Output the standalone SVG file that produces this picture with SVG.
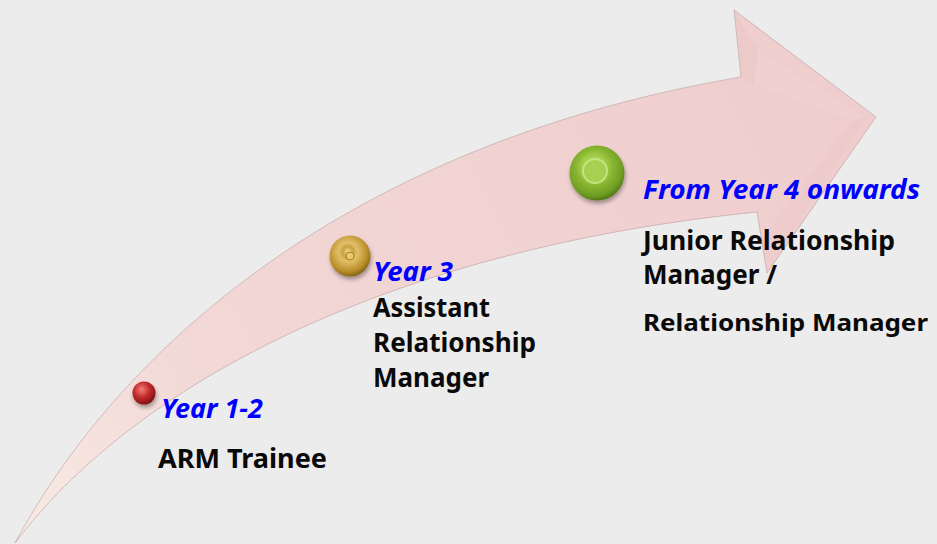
<svg xmlns="http://www.w3.org/2000/svg" width="937" height="544" viewBox="0 0 937 544">
  <defs>
    <linearGradient id="arrowFill" x1="15" y1="543" x2="876" y2="117" gradientUnits="userSpaceOnUse">
      <stop offset="0" stop-color="#f8ebe4"/>
      <stop offset="0.25" stop-color="#f2d8d6"/>
      <stop offset="1" stop-color="#efcdcd"/>
    </linearGradient>
    <radialGradient id="redBall" cx="0.4" cy="0.35" r="0.7">
      <stop offset="0" stop-color="#f08080"/>
      <stop offset="0.45" stop-color="#c83030"/>
      <stop offset="1" stop-color="#7a0c0c"/>
    </radialGradient>
    <radialGradient id="goldBall" cx="0.45" cy="0.4" r="0.65">
      <stop offset="0" stop-color="#f4dc8c"/>
      <stop offset="0.2" stop-color="#caa040"/>
      <stop offset="0.35" stop-color="#e2c068"/>
      <stop offset="0.75" stop-color="#b88c28"/>
      <stop offset="1" stop-color="#6e5410"/>
    </radialGradient>
    <radialGradient id="greenBall" cx="0.45" cy="0.4" r="0.65">
      <stop offset="0" stop-color="#c4e27a"/>
      <stop offset="0.35" stop-color="#a0cc48"/>
      <stop offset="0.5" stop-color="#8ab832"/>
      <stop offset="0.8" stop-color="#6e9c22"/>
      <stop offset="1" stop-color="#3f6410"/>
    </radialGradient>
    <filter id="shadow" x="-50%" y="-50%" width="200%" height="200%">
      <feGaussianBlur in="SourceAlpha" stdDeviation="2"/>
      <feOffset dx="1" dy="3" result="b"/>
      <feComponentTransfer><feFuncA type="linear" slope="0.35"/></feComponentTransfer>
      <feMerge><feMergeNode/><feMergeNode in="SourceGraphic"/></feMerge>
    </filter>
  </defs>
  <style>
    .year { font-family: "Noto Sans", "Liberation Sans", sans-serif; font-weight: bold; font-style: italic; font-size: 27px; fill: #0000ff; }
    .role { font-family: "Noto Sans", "Liberation Sans", sans-serif; font-weight: bold; font-size: 27px; fill: #0a0a0a; }
  </style>
  <rect x="0" y="0" width="937" height="544" fill="#ececec"/>

  <g id="timeline-arrow">
    <path d="M15,543 C130,330 370,140 741,77 L734,10 L876,117 L767,273 L757,212 C380,250 130,390 15,543 Z" fill="url(#arrowFill)" stroke="#b89898" stroke-width="0.8" stroke-opacity="0.7"/>
    <path d="M741,77 L734,10 L758,50 L754,84 Z" fill="#e8c4c4" opacity="0.35"/>
    <path d="M758,50 L866,118 L852,121 L754,84 Z" fill="#f3d8d8" opacity="0.3"/>
    <path d="M852,121 L866,118 L767,273 L762,238 Z" fill="#e6c4c4" opacity="0.25"/>
  </g>

  <g id="connectors"></g>

  <g id="node-year-1-2">
    <circle cx="144" cy="393" r="11.5" fill="url(#redBall)" filter="url(#shadow)"/>
    <text class="year" x="161" y="418" textLength="102" lengthAdjust="spacingAndGlyphs">Year 1-2</text>
    <text class="role" x="158" y="468" textLength="169" lengthAdjust="spacingAndGlyphs">ARM Trainee</text>
  </g>

  <g id="node-year-3">
    <circle cx="350" cy="256" r="20.5" fill="url(#goldBall)" filter="url(#shadow)"/>
    <circle cx="350" cy="256" r="4" fill="#e8c870" stroke="#a88020" stroke-width="1"/>
    <text class="year" x="373" y="281" textLength="80" lengthAdjust="spacingAndGlyphs">Year 3</text>
    <text class="role" x="373" y="317" textLength="117" lengthAdjust="spacingAndGlyphs">Assistant</text>
    <text class="role" x="373" y="352" textLength="163" lengthAdjust="spacingAndGlyphs">Relationship</text>
    <text class="role" x="373" y="387" textLength="116" lengthAdjust="spacingAndGlyphs">Manager</text>
  </g>

  <g id="node-year-4">
    <circle cx="597" cy="173" r="27.5" fill="url(#greenBall)" filter="url(#shadow)"/>
    <circle cx="595" cy="171" r="12" fill="#a6d050" stroke="#c8e688" stroke-width="2" opacity="0.9"/>
    <text class="year" x="643" y="199" textLength="277" lengthAdjust="spacingAndGlyphs">From Year 4 onwards</text>
    <text class="role" x="643" y="250" textLength="252" lengthAdjust="spacingAndGlyphs">Junior Relationship</text>
    <text class="role" x="643" y="284" textLength="134" lengthAdjust="spacingAndGlyphs">Manager /</text>
    <text class="role" x="643" y="331" style="font-size:24px" textLength="285" lengthAdjust="spacingAndGlyphs">Relationship Manager</text>
  </g>
</svg>
